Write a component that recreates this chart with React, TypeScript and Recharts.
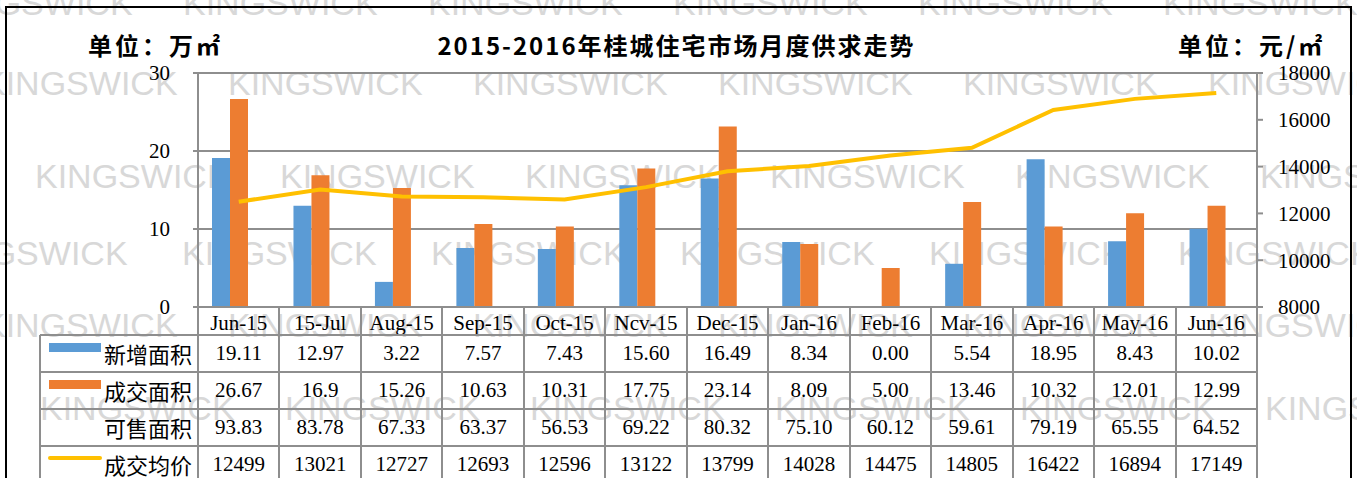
import { ComposedChart, Bar, Line, XAxis, YAxis, CartesianGrid } from 'recharts'

const categories = ['Jun-15', '15-Jul', 'Aug-15', 'Sep-15', 'Oct-15', 'Ncv-15', 'Dec-15', 'Jan-16', 'Feb-16', 'Mar-16', 'Apr-16', 'May-16', 'Jun-16']
const newSupply = ['19.11', '12.97', '3.22', '7.57', '7.43', '15.60', '16.49', '8.34', '0.00', '5.54', '18.95', '8.43', '10.02']
const dealArea = ['26.67', '16.9', '15.26', '10.63', '10.31', '17.75', '23.14', '8.09', '5.00', '13.46', '10.32', '12.01', '12.99']
const forSale = ['93.83', '83.78', '67.33', '63.37', '56.53', '69.22', '80.32', '75.10', '60.12', '59.61', '79.19', '65.55', '64.52']
const avgPrice = [12499, 13021, 12727, 12693, 12596, 13122, 13799, 14028, 14475, 14805, 16422, 16894, 17149]
const leftTicks = [0, 10, 20, 30]
const rightTicks = [8000, 10000, 12000, 14000, 16000, 18000]

const BLUE = '#5B9BD5'
const ORANGE = '#ED7D31'
const YELLOW = '#FFC000'
const GRID = '#8e8e8e'
const SERIF = '"Liberation Serif", "Noto Sans CJK SC", serif'
const CJK = '"Noto Sans CJK SC", sans-serif'

const W = 1357
const H = 478
const PLOT_L = 198
const PLOT_R = 1257
const PLOT_T = 73
const PLOT_B = 307
const colW = (PLOT_R - PLOT_L) / categories.length

const data = categories.map((name, i) => ({
  name,
  newSupply: Number(newSupply[i]),
  dealArea: Number(dealArea[i]),
  forSale: Number(forSale[i]),
  avgPrice: avgPrice[i],
}))

const rows = [
  { label: '新增面积', mark: 'bar', color: BLUE, values: newSupply },
  { label: '成交面积', mark: 'bar', color: ORANGE, values: dealArea },
  { label: '可售面积', mark: 'none', color: '', values: forSale },
  { label: '成交均价', mark: 'line', color: YELLOW, values: avgPrice.map(String) },
]
const rowTops = [335, 372, 409, 446]
const ROW_H = 37

// watermark rows: baseline y, first x, step
const marks = [
  { y: 15, x: -62, step: 245 },
  { y: 95, x: -17, step: 245 },
  { y: 188, x: 35, step: 245 },
  { y: 265, x: -67, step: 249 },
  { y: 337, x: -17, step: 245 },
  { y: 420, x: 40, step: 245 },
]

function Watermark() {
  const items: JSX.Element[] = []
  marks.forEach((m, r) => {
    for (let x = m.x; x < W; x += m.step) {
      items.push(
        <text key={`${r}-${x}`} x={x} y={m.y} fontSize={34} fontFamily='"Liberation Sans", Arial, sans-serif' fill="#d8d8d8">
          KINGSWICK
        </text>
      )
    }
  })
  return (
    <svg width={W} height={H} style={{ position: 'absolute', left: 0, top: 0 }}>
      {items}
    </svg>
  )
}

function hLine(x1: number, x2: number, y: number, key: string) {
  return <div key={key} style={{ position: 'absolute', left: x1, top: y - 1, width: x2 - x1, height: 2, background: GRID }} />
}
function vLine(x: number, y1: number, y2: number, key: string) {
  return <div key={key} style={{ position: 'absolute', left: x - 1, top: y1, width: 2, height: y2 - y1, background: GRID }} />
}

function DataTable() {
  const lines: JSX.Element[] = []
  rowTops.forEach((y, i) => lines.push(hLine(40, PLOT_R, y, `h${i}`)))
  lines.push(vLine(40, 335, H, 'vleft'))
  for (let i = 0; i <= categories.length; i++) {
    lines.push(vLine(PLOT_L + i * colW, PLOT_B, H, `v${i}`))
  }
  return (
    <div style={{ position: 'absolute', left: 0, top: 0, width: W, height: H }}>
      {lines}
      {rows.map((row, r) => (
        <div key={row.label}>
          {row.mark === 'bar' && (
            <div style={{ position: 'absolute', left: 49, top: rowTops[r] + 8, width: 52, height: 9, background: row.color }} />
          )}
          {row.mark === 'line' && (
            <div style={{ position: 'absolute', left: 48, top: rowTops[r] + 10, width: 54, height: 4, borderRadius: 2, background: row.color }} />
          )}
          <div style={{ position: 'absolute', left: 100, width: 92, top: rowTops[r], height: ROW_H, lineHeight: `${ROW_H}px`, textAlign: 'right', fontFamily: CJK, fontSize: 22 }}>
            {row.label}
          </div>
          {row.values.map((v, i) => (
            <div key={i} style={{ position: 'absolute', left: PLOT_L + i * colW, width: colW, top: rowTops[r], height: ROW_H, lineHeight: `${ROW_H}px`, textAlign: 'center', fontFamily: SERIF, fontSize: 21 }}>
              {v}
            </div>
          ))}
        </div>
      ))}
    </div>
  )
}

export default function App() {
  return (
    <div style={{ position: 'absolute', left: 0, top: 0, width: W, height: H, overflow: 'hidden', background: '#fff' }}>
      <Watermark />
      <div style={{ position: 'absolute', left: 5, top: 6, width: W - 14, height: H, border: '2px solid #000' }} />
      <div style={{ position: 'absolute', left: 0, top: 0 }}>
        <ComposedChart width={W} height={H} data={data} margin={{ top: PLOT_T, right: 0, bottom: H - PLOT_B - 30, left: 0 }} barGap={0}>
          <CartesianGrid yAxisId="left" vertical={false} stroke={GRID} strokeWidth={2} />
          <XAxis
            dataKey="name"
            height={30}
            axisLine={{ stroke: GRID, strokeWidth: 2 }}
            tickLine={false}
            tickSize={0}
            tickMargin={8}
            interval={0}
            tick={{ fontSize: 21, fontFamily: SERIF, fill: '#000' }}
          />
          <YAxis
            yAxisId="left"
            width={PLOT_L}
            domain={[0, 30]}
            ticks={leftTicks}
            allowDataOverflow
            axisLine={{ stroke: GRID, strokeWidth: 2 }}
            tickLine={{ stroke: GRID, strokeWidth: 2 }}
            tickSize={5}
            tickMargin={23}
            tick={{ fontSize: 21, fontFamily: SERIF, fill: '#000' }}
          />
          <YAxis
            yAxisId="right"
            orientation="right"
            width={W - PLOT_R}
            domain={[8000, 18000]}
            ticks={rightTicks}
            axisLine={{ stroke: GRID, strokeWidth: 2 }}
            tickLine={{ stroke: GRID, strokeWidth: 2 }}
            tickSize={6}
            tickMargin={15}
            tick={{ fontSize: 21, fontFamily: SERIF, fill: '#000', textAnchor: 'start' }}
          />
          <Bar yAxisId="left" dataKey="newSupply" fill={BLUE} barSize={18} isAnimationActive={false} />
          <Bar yAxisId="left" dataKey="dealArea" fill={ORANGE} barSize={18} isAnimationActive={false} />
          <Bar yAxisId="left" dataKey="forSale" fill="none" barSize={18} isAnimationActive={false} />
          <Line yAxisId="right" dataKey="avgPrice" type="linear" stroke={YELLOW} strokeWidth={4} dot={false} isAnimationActive={false} />
        </ComposedChart>
      </div>
      <DataTable />
      <div style={{ position: 'absolute', left: 88, top: 30, fontFamily: CJK, fontWeight: 700, fontSize: 24, letterSpacing: 3, lineHeight: '30px' }}>单位：万㎡</div>
      <div style={{ position: 'absolute', left: 0, width: W - 4, textAlign: 'center', top: 30, fontFamily: CJK, fontWeight: 700, fontSize: 24, letterSpacing: 2, lineHeight: '30px' }}>
        2015-2016年桂城住宅市场月度供求走势
      </div>
      <div style={{ position: 'absolute', left: 1178, top: 30, fontFamily: CJK, fontWeight: 700, fontSize: 24, letterSpacing: 3, lineHeight: '30px' }}>单位：元/㎡</div>
    </div>
  )
}
